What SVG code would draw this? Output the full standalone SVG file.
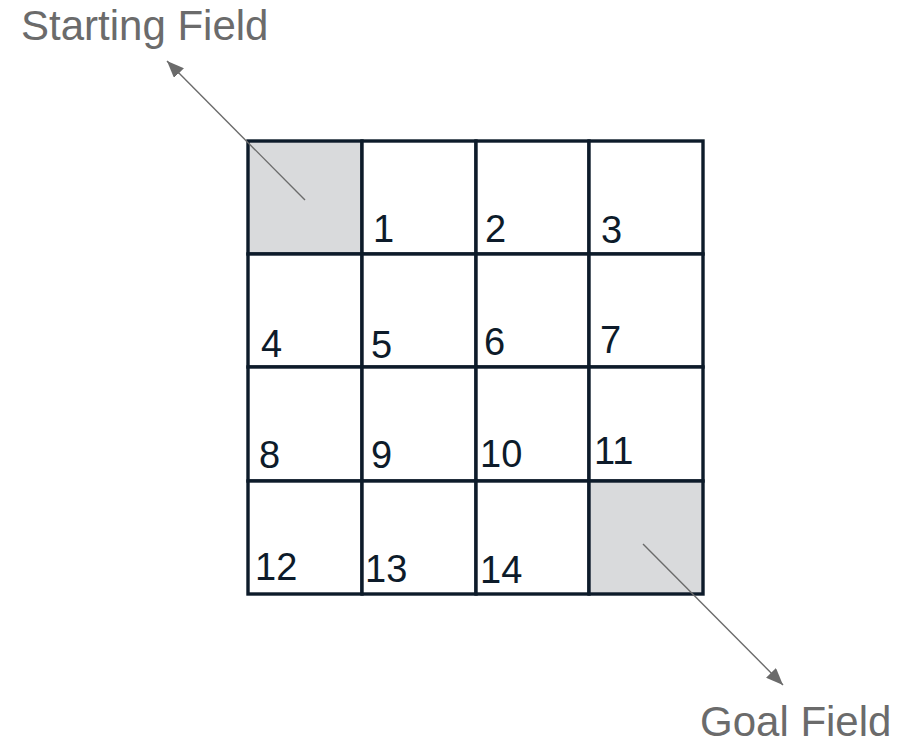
<svg xmlns="http://www.w3.org/2000/svg" width="903" height="746" viewBox="0 0 903 746">
<style>
.cell{fill:#ffffff;stroke:#0d1b2a;stroke-width:3.4}
.shade{fill:#d9dadc}
.num{font-family:"Liberation Sans",Arial,sans-serif;font-size:38px;fill:#0d1b2a}
.lbl{font-family:"Liberation Sans",Arial,sans-serif;font-size:42px;fill:#6b6b6b}
.conn{stroke:#6b6b6b;stroke-width:1.4;fill:none}
</style>
<defs>
<marker id="arr" markerUnits="userSpaceOnUse" markerWidth="18" markerHeight="14" refX="17" refY="7" orient="auto">
<path d="M0,0 L17,7 L0,14 z" fill="#6b6b6b"/>
</marker>
</defs>
<rect width="903" height="746" fill="#ffffff"/>
<g id="grid">
<g id="cell-start"><rect class="cell shade" x="248" y="141" width="114" height="113"/></g>
<g id="cell-1"><rect class="cell" x="362" y="141" width="114" height="113"/><text class="num" x="373" y="242">1</text></g>
<g id="cell-2"><rect class="cell" x="476" y="141" width="113" height="113"/><text class="num" x="485" y="242">2</text></g>
<g id="cell-3"><rect class="cell" x="589" y="141" width="114" height="113"/><text class="num" x="601" y="243">3</text></g>
<g id="cell-4"><rect class="cell" x="248" y="254" width="114" height="113"/><text class="num" x="261" y="357">4</text></g>
<g id="cell-5"><rect class="cell" x="362" y="254" width="114" height="113"/><text class="num" x="371" y="358">5</text></g>
<g id="cell-6"><rect class="cell" x="476" y="254" width="113" height="113"/><text class="num" x="484" y="355">6</text></g>
<g id="cell-7"><rect class="cell" x="589" y="254" width="114" height="113"/><text class="num" x="600" y="353">7</text></g>
<g id="cell-8"><rect class="cell" x="248" y="367" width="114" height="114"/><text class="num" x="259" y="468">8</text></g>
<g id="cell-9"><rect class="cell" x="362" y="367" width="114" height="114"/><text class="num" x="371" y="468">9</text></g>
<g id="cell-10"><rect class="cell" x="476" y="367" width="113" height="114"/><text class="num" x="480" y="467">10</text></g>
<g id="cell-11"><rect class="cell" x="589" y="367" width="114" height="114"/><text class="num" x="594" y="464">11</text></g>
<g id="cell-12"><rect class="cell" x="248" y="481" width="114" height="113"/><text class="num" x="255" y="580">12</text></g>
<g id="cell-13"><rect class="cell" x="362" y="481" width="114" height="113"/><text class="num" x="365" y="582">13</text></g>
<g id="cell-14"><rect class="cell" x="476" y="481" width="113" height="113"/><text class="num" x="480" y="583">14</text></g>
<g id="cell-goal"><rect class="cell shade" x="589" y="481" width="114" height="113"/></g>
</g>
<g id="label-start"><text class="lbl" x="21" y="40">Starting Field</text></g>
<g id="label-goal"><text class="lbl" x="700" y="736">Goal Field</text></g>
<g id="connectors">
<line class="conn" x1="305" y1="200" x2="167" y2="61" marker-end="url(#arr)"/>
<line class="conn" x1="643" y1="544" x2="783" y2="685" marker-end="url(#arr)"/>
</g>
</svg>
